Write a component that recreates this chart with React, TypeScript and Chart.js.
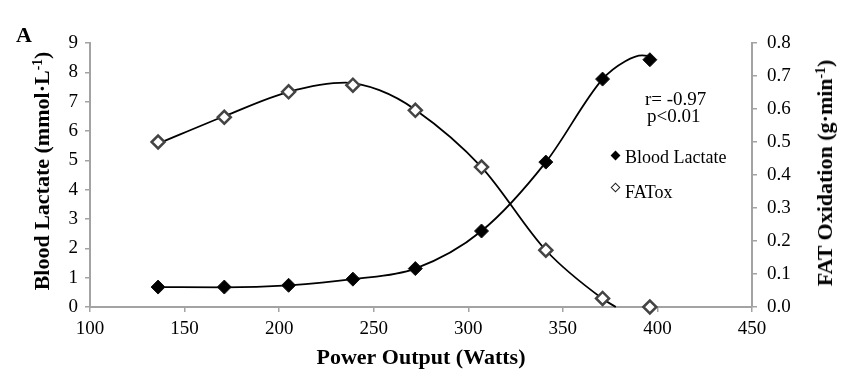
import React, { useEffect, useRef } from "react";
import { Chart, registerables } from "chart.js";

Chart.register(...registerables);

// Measured points
const powerWatts = [136, 171, 205, 239, 272, 307, 341, 371, 396];
const bloodLactate = [0.68, 0.68, 0.74, 0.95, 1.31, 2.59, 4.94, 7.77, 8.43];
const fatOxidation = [0.5, 0.575, 0.652, 0.672, 0.596, 0.424, 0.172, 0.026, 0.0];

// Trend curves
const lactateTrendX = [136, 171, 205, 239, 272, 307, 341, 371, 383, 392, 397];
const lactateTrendY = [0.68, 0.67, 0.74, 0.95, 1.31, 2.59, 4.94, 7.77, 8.38, 8.58, 8.55];
const fatTrendX = [136, 171, 205, 235, 253, 272, 307, 341, 371, 378];
const fatTrendY = [0.495, 0.578, 0.652, 0.68, 0.657, 0.598, 0.424, 0.172, 0.025, 0.0];

// Axes
const xMin = 100;
const xMax = 450;
const xStep = 50;
const yLeftMax = 9;
const yRightMax = 0.8;

const xTitle = "Power Output (Watts)";
const yLeftTitle = "Blood Lactate (mmol·L";
const yRightTitle = "FAT Oxidation (g·min";
const unitExp = "-1";
const statR = "r= -0.97";
const statP = "p<0.01";
const legendLactate = "Blood Lactate";
const legendFat = "FATox";
const panelLabel = "A";

const SERIF = "'Liberation Serif', 'Times New Roman', serif";
const AXIS_GRAY = "#a3a3a3";

export default function App() {
  const canvasRef = useRef<HTMLCanvasElement | null>(null);

  useEffect(() => {
    document.body.style.margin = "0";
    const canvas = canvasRef.current;
    if (!canvas) return;

    const pts = (xs: number[], ys: number[]) => xs.map((x, i) => ({ x, y: ys[i] }));

    const chart = new Chart(canvas, {
      type: "scatter",
      data: {
        datasets: [
          {
            label: legendLactate,
            data: pts(powerWatts, bloodLactate),
            yAxisID: "y",
            showLine: false,
            pointStyle: "rectRot",
            pointRadius: 7,
            pointBackgroundColor: "#000",
            pointBorderColor: "#111",
            pointBorderWidth: 1,
            clip: false,
          } as any,
          {
            label: legendFat,
            data: pts(powerWatts, fatOxidation),
            yAxisID: "y1",
            showLine: false,
            pointStyle: "rectRot",
            pointRadius: 6.5,
            pointBackgroundColor: "#fff",
            pointBorderColor: "#444",
            pointBorderWidth: 2.5,
            clip: false,
          } as any,
          {
            label: "lactate trend",
            data: pts(lactateTrendX, lactateTrendY),
            yAxisID: "y",
            showLine: true,
            borderColor: "#000",
            borderWidth: 1.8,
            pointRadius: 0,
            cubicInterpolationMode: "monotone",
            clip: false,
          } as any,
          {
            label: "fat trend",
            data: pts(fatTrendX, fatTrendY),
            yAxisID: "y1",
            showLine: true,
            borderColor: "#000",
            borderWidth: 1.8,
            pointRadius: 0,
            cubicInterpolationMode: "monotone",
            clip: false,
          } as any,
        ],
      },
      options: {
        animation: false,
        responsive: false,
        devicePixelRatio: 1,
        layout: { padding: { top: 43, left: 30, right: 7, bottom: 5 } },
        plugins: { legend: { display: false }, tooltip: { enabled: false } },
        scales: {
          x: {
            type: "linear",
            min: xMin,
            max: xMax,
            ticks: {
              stepSize: xStep,
              color: "#000",
              font: { family: SERIF, size: 19 },
              padding: 6,
              maxRotation: 0,
            },
            grid: {
              display: true,
              drawOnChartArea: false,
              drawTicks: true,
              tickLength: 5,
              color: AXIS_GRAY,
              lineWidth: 1.5,
            },
            border: { display: true, color: AXIS_GRAY, width: 2 },
            title: {
              display: true,
              text: xTitle,
              color: "#000",
              font: { family: SERIF, size: 22, weight: "bold" },
              padding: { top: 0, bottom: 0 },
            },
            afterFit: (s: any) => {
              s.height = 65;
            },
          },
          y: {
            type: "linear",
            position: "left",
            min: 0,
            max: yLeftMax,
            ticks: {
              stepSize: 1,
              color: "#000",
              font: { family: SERIF, size: 19 },
              padding: 7,
            },
            grid: {
              display: true,
              drawOnChartArea: false,
              drawTicks: true,
              tickLength: 5,
              color: AXIS_GRAY,
              lineWidth: 1.5,
            },
            border: { display: true, color: AXIS_GRAY, width: 2 },
            title: { display: false },
            afterFit: (s: any) => {
              s.width = 60;
            },
          },
          y1: {
            type: "linear",
            position: "right",
            min: 0,
            max: yRightMax,
            ticks: {
              stepSize: 0.1,
              color: "#000",
              font: { family: SERIF, size: 19 },
              padding: 10,
              callback: (v: any) => Number(v).toFixed(1),
            },
            grid: {
              display: true,
              drawOnChartArea: false,
              drawTicks: true,
              tickLength: 5,
              color: AXIS_GRAY,
              lineWidth: 1.5,
            },
            border: { display: true, color: AXIS_GRAY, width: 2 },
            title: { display: false },
            afterFit: (s: any) => {
              s.width = 86;
            },
          },
        },
      } as any,
    });

    return () => chart.destroy();
  }, []);

  const textStyle = (left: number, top: number, size: number, bold = false): React.CSSProperties => ({
    position: "absolute",
    left,
    top,
    fontFamily: SERIF,
    fontSize: size,
    lineHeight: `${size}px`,
    fontWeight: bold ? "bold" : "normal",
    color: "#000",
    whiteSpace: "nowrap",
  });

  const vTitle = (cx: number, cy: number): React.CSSProperties => ({
    position: "absolute",
    left: cx,
    top: cy,
    transform: "translate(-50%, -50%) rotate(-90deg)",
    fontFamily: SERIF,
    fontSize: 22,
    lineHeight: "24px",
    fontWeight: "bold",
    color: "#000",
    whiteSpace: "nowrap",
  });

  const supStyle: React.CSSProperties = { fontSize: "0.62em", verticalAlign: "0.55em", lineHeight: 0 };

  return (
    <div style={{ position: "relative", width: 845, height: 377, background: "#fff" }}>
      <canvas ref={canvasRef} width={845} height={377} style={{ display: "block" }} />
      <div style={textStyle(16, 24, 22, true)}>{panelLabel}</div>
      <div style={vTitle(42, 171)}>
        {yLeftTitle}
        <span style={supStyle}>{unitExp}</span>)
      </div>
      <div style={vTitle(825, 173)}>
        {yRightTitle}
        <span style={supStyle}>{unitExp}</span>)
      </div>
      <div style={textStyle(645, 89, 19)}>{statR}</div>
      <div style={textStyle(647, 106, 19)}>{statP}</div>
      <div
        style={{
          position: "absolute",
          left: 612,
          top: 152,
          width: 7,
          height: 7,
          background: "#000",
          transform: "rotate(45deg)",
        }}
      />
      <div style={textStyle(625, 148, 18)}>{legendLactate}</div>
      <div
        style={{
          position: "absolute",
          left: 612,
          top: 184,
          width: 5,
          height: 5,
          border: "1.8px solid #222",
          background: "#fff",
          transform: "rotate(45deg)",
        }}
      />
      <div style={textStyle(625, 183, 18)}>{legendFat}</div>
    </div>
  );
}
